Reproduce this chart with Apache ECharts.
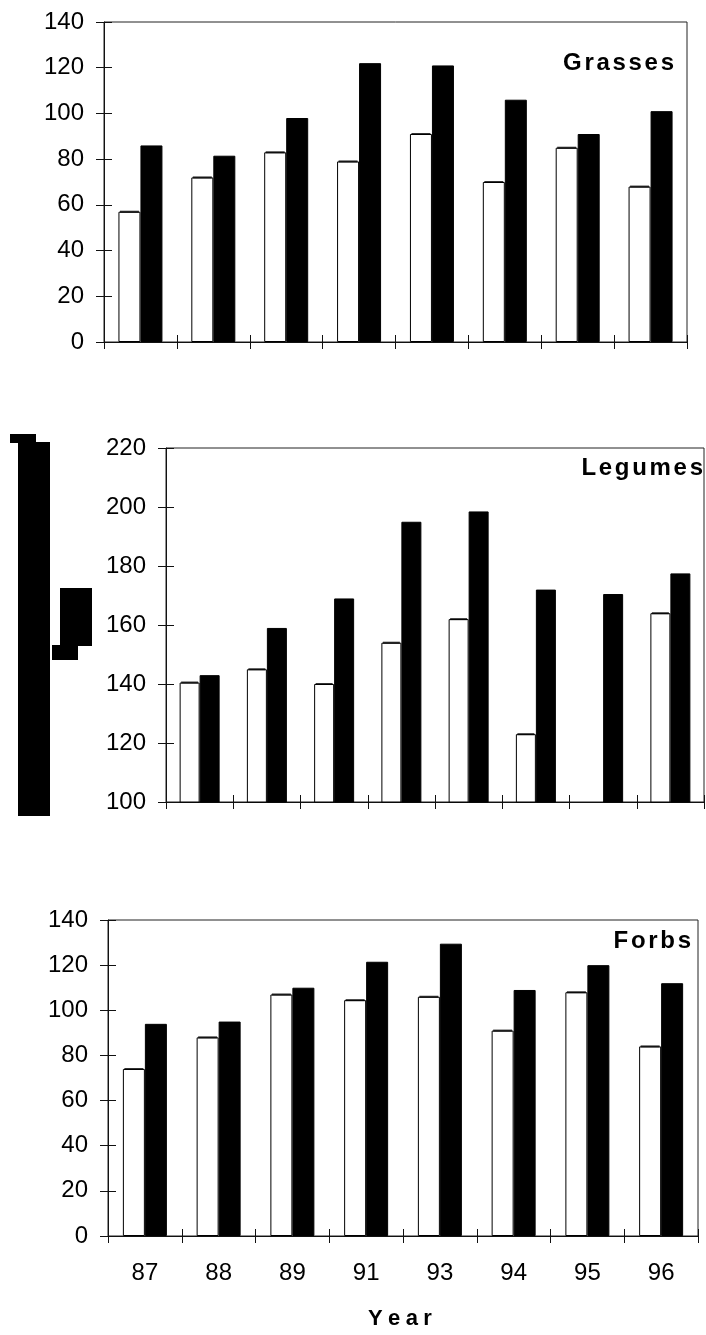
<!DOCTYPE html>
<html>
<head>
<meta charset="utf-8">
<script src="https://cdn.jsdelivr.net/npm/echarts@6/dist/echarts.min.js"></script>
<style>
html,body{margin:0;padding:0;background:#fff;}
#c{width:706px;height:1335px;}
</style>
</head>
<body>
<div id="c"></div>
<script>
// ---- data ----
var years = ['87','88','89','91','93','94','95','96'];
var grassesA = [57, 72, 83, 79, 91, 70, 85, 68];
var grassesB = [86, 81.5, 98, 122, 121, 106, 91, 101];
var legumesA = [140.5, 145, 140, 154, 162, 123, null, 164];
var legumesB = [143, 159, 169, 195, 198.5, 172, 170.5, 177.5];
var forbsA = [74, 88, 107, 104.5, 106, 91, 108, 84];
var forbsB = [94, 95, 110, 121.5, 129.5, 109, 120, 112];
var panelNames = ['Grasses', 'Legumes', 'Forbs'];
var yMins = [0, 100, 0];
var yMaxs = [140, 220, 140];
var yStep = 20;
var xTitle = 'Year';

var FONT = '"Liberation Sans", Arial, sans-serif';
var chart = echarts.init(document.getElementById('c'), null, {renderer: 'canvas'});

var grids = [
  {left: 104, top: 22, right: 19, height: 320},
  {left: 166, top: 448, right: 2, height: 354},
  {left: 108, top: 920, right: 8, height: 316}
];
var barW = [22, 20, 22];
var seriesA = [grassesA, legumesA, forbsA];
var seriesB = [grassesB, legumesB, forbsB];

var xAxes = [], yAxes = [], series = [], titles = [];
grids.forEach(function (g, i) {
  g.show = true;
  g.borderColor = '#222';
  g.borderWidth = 1;
  g.containLabel = false;
  var isLast = i === 2;
  xAxes.push({
    type: 'category', gridIndex: i, data: years, position: 'bottom',
    boundaryGap: true,
    axisLine: {show: true, lineStyle: {color: '#111', width: 1}},
    axisTick: {show: true, inside: false, length: 7, lineStyle: {color: '#111'}},
    axisLabel: {show: isLast, fontFamily: FONT, fontSize: 24, color: '#000', margin: 25},
    splitLine: {show: false}
  });
  xAxes.push({
    type: 'category', gridIndex: i, data: years, position: 'bottom',
    boundaryGap: true,
    axisLine: {show: false},
    axisTick: {show: true, inside: true, length: 7, lineStyle: {color: '#111'}},
    axisLabel: {show: false},
    splitLine: {show: false}
  });
  yAxes.push({
    type: 'value', gridIndex: i, min: yMins[i], max: yMaxs[i], interval: yStep,
    position: 'left',
    axisLine: {show: true, lineStyle: {color: '#111', width: 1}},
    axisTick: {show: true, inside: false, length: 8, lineStyle: {color: '#111'}},
    axisLabel: {fontFamily: FONT, fontSize: 24, color: '#000', margin: 20},
    splitLine: {show: false}
  });
  yAxes.push({
    type: 'value', gridIndex: i, min: yMins[i], max: yMaxs[i], interval: yStep,
    position: 'left',
    axisLine: {show: false},
    axisTick: {show: true, inside: true, length: 8, lineStyle: {color: '#111'}},
    axisLabel: {show: false},
    splitLine: {show: false}
  });
  series.push({
    type: 'bar', xAxisIndex: 2 * i, yAxisIndex: 2 * i, data: seriesA[i],
    barWidth: barW[i], barGap: '0%',
    itemStyle: {color: '#fff', borderColor: '#000', borderWidth: 1},
    silent: true, animation: false
  });
  series.push({
    type: 'bar', xAxisIndex: 2 * i, yAxisIndex: 2 * i, data: seriesB[i],
    barWidth: barW[i], barGap: '0%',
    itemStyle: {color: '#000', borderColor: '#000', borderWidth: 1},
    silent: true, animation: false
  });
  // small cap on top of the open bars
  series.push({
    type: 'scatter', xAxisIndex: 2 * i, yAxisIndex: 2 * i, data: seriesA[i],
    symbol: 'rect', symbolSize: [barW[i] - 3, 2], symbolOffset: [-barW[i] / 2, 0],
    itemStyle: {color: '#000'}, silent: true, animation: false, z: 3
  });
});

function spaced(txt) {
  return txt.split('').map(function (c, k) { return (k ? '{s|' : '{f|') + c + '}'; }).join('');
}
function titleStyle(size, gap) {
  return {
    fontFamily: FONT, fontSize: size, fontWeight: 'bold', color: '#000',
    rich: {
      f: {fontFamily: FONT, fontSize: size, fontWeight: 'bold', color: '#000'},
      s: {fontFamily: FONT, fontSize: size, fontWeight: 'bold', color: '#000', padding: [0, 0, 0, gap]}
    }
  };
}
var titlePos = [{right: 32, top: 51}, {right: 3, top: 456}, {right: 15, top: 929}];
panelNames.forEach(function (n, i) {
  titles.push(Object.assign({
    text: spaced(n), padding: 0,
    textStyle: titleStyle(24, 2.7)
  }, titlePos[i]));
});
titles.push({
  text: spaced(xTitle), left: 368, top: 1308, padding: 0,
  textStyle: titleStyle(22, 5.4)
});

var option = {
  animation: false,
  backgroundColor: '#fff',
  title: titles,
  grid: grids,
  xAxis: xAxes,
  yAxis: yAxes,
  series: series,
  graphic: [
    {type: 'rect', shape: {x: 10, y: 434, width: 26, height: 9}, style: {fill: '#000'}},
    {type: 'rect', shape: {x: 18, y: 442, width: 32, height: 374}, style: {fill: '#000'}},
    {type: 'rect', shape: {x: 60, y: 588, width: 32, height: 58}, style: {fill: '#000'}},
    {type: 'rect', shape: {x: 52, y: 645, width: 26, height: 15}, style: {fill: '#000'}}
  ]
};
chart.setOption(option);
</script>
</body>
</html>
